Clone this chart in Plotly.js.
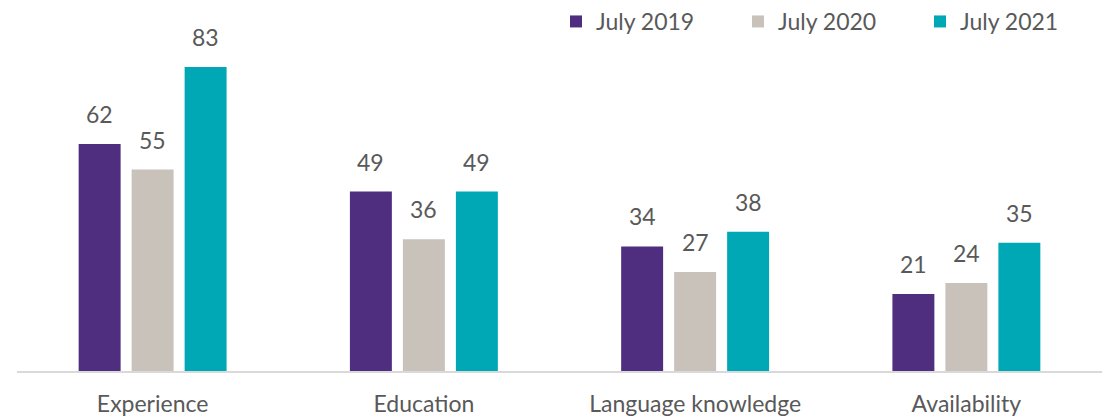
<!DOCTYPE html>
<html>
<head>
<meta charset="utf-8">
<script src="https://cdn.plot.ly/plotly-3.0.1.min.js"></script>
<style>html,body{margin:0;padding:0;background:#fff;}#chart{width:1104px;height:420px;}</style>
</head>
<body>
<div id="chart"></div>
<script>
const categories = ["Experience", "Education", "Language knowledge", "Availability"];
const seriesNames = ["July 2019", "July 2020", "July 2021"];
const july2019 = [62, 49, 34, 21];
const july2020 = [55, 36, 27, 24];
const july2021 = [83, 49, 38, 35];
const colors = ["#4F2D7F", "#C9C2BB", "#00A8B5"];

const allSeries = [july2019, july2020, july2021];
const FONT = "Lato, 'Open Sans', sans-serif";
const TXT = "#595959";

const W = 1104, H = 420;
const margin = {l: 17, r: 2, t: 0, b: 49};
const bargap = 0.414, bargroupgap = 0.208;

// pixel offset of each bar's centre from its category centre (from layout params)
const plotW = W - margin.l - margin.r;
const catPx = plotW / categories.length;
const slotPx = catPx * (1 - bargap) / allSeries.length;

const traces = allSeries.map((vals, i) => ({
  type: "bar",
  name: seriesNames[i],
  x: categories,
  y: vals,
  marker: {color: colors[i]},
  hoverinfo: "skip"
}));

const annotations = [];
allSeries.forEach((vals, i) => {
  vals.forEach((v, j) => {
    annotations.push({
      x: categories[j], y: v, xref: "x", yref: "y",
      text: String(v), showarrow: false,
      xanchor: "center", yanchor: "bottom",
      xshift: (i - (allSeries.length - 1) / 2) * slotPx,
      yshift: 14,
      font: {family: FONT, size: 23, color: TXT}
    });
  });
});

const layout = {
  width: W, height: H,
  margin: margin,
  paper_bgcolor: "#fff", plot_bgcolor: "#fff",
  barmode: "group",
  bargap: bargap,
  bargroupgap: bargroupgap,
  font: {family: FONT, size: 23, color: TXT},
  showlegend: true,
  legend: {
    orientation: "h",
    xref: "paper", yref: "paper",
    x: 1.0, xanchor: "right",
    y: 1.0, yanchor: "top",
    font: {family: FONT, size: 23, color: TXT},
    itemwidth: 30,
    entrywidth: 137,
    entrywidthmode: "pixels",
    traceorder: "normal",
    bgcolor: "rgba(0,0,0,0)"
  },
  annotations: annotations,
  xaxis: {
    showline: true, linecolor: "#D9D9D9", linewidth: 1.5,
    showgrid: false, zeroline: false,
    ticks: "outside", ticklen: 12, tickcolor: "rgba(0,0,0,0)",
    tickfont: {family: FONT, size: 23, color: TXT},
    fixedrange: true
  },
  yaxis: {
    range: [0, 101.3],
    showgrid: false, zeroline: false, showline: false,
    showticklabels: false, ticks: "",
    fixedrange: true
  }
};

Plotly.newPlot("chart", traces, layout, {displayModeBar: false, staticPlot: true});
</script>
</body>
</html>
